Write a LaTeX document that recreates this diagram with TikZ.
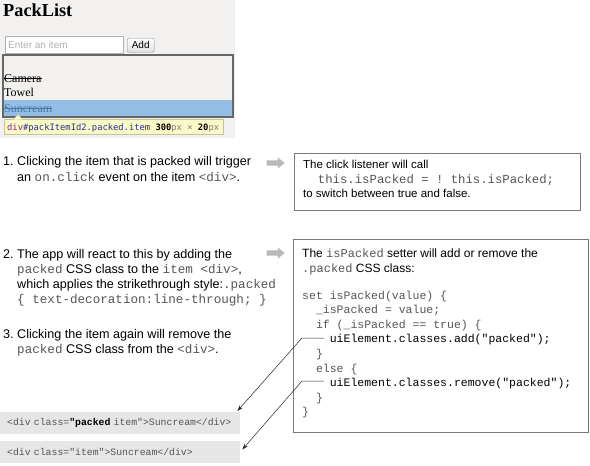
\documentclass[tikz,border=0pt]{standalone}
\usepackage{fontspec}
\setmainfont{Liberation Sans}
\setmonofont{Liberation Mono}
\newfontfamily\browserfont{Liberation Serif}
\newfontfamily\inspectfont{DejaVu Sans Mono}
\usepackage{xcolor}
\usetikzlibrary{arrows.meta,positioning,shapes.arrows}

\definecolor{pagebg}{HTML}{F2F1EF}
\definecolor{rowblue}{HTML}{92BDE5}
\definecolor{rowtext}{HTML}{4A78A6}
\definecolor{tipbg}{HTML}{FAFAC8}
\definecolor{tipline}{HTML}{C4C49A}
\definecolor{tagcol}{HTML}{8E1D8A}
\definecolor{selcol}{HTML}{2B2B9C}
\definecolor{framegray}{HTML}{7A7A7A}
\definecolor{codebg}{HTML}{E6E6E6}
\definecolor{codegray}{HTML}{555555}

\newcommand{\codeword}[1]{{\ttfamily\color{codegray}#1}}

\begin{document}
\begin{tikzpicture}[x=1pt, y=-1pt,
    note/.style={anchor=north west, inner sep=0, align=left, font=\fontsize{12.6}{16}\selectfont},
    boxtext/.style={anchor=north west, inner sep=0, align=left, font=\fontsize{11.5}{14.7}\selectfont},
    panel/.style={draw=framegray, line width=0.8pt, anchor=north west, inner sep=0},
    fatarrow/.style={single arrow, fill=gray!55, draw=none, inner sep=2.5pt, minimum height=18pt, single arrow head extend=3pt, single arrow tip angle=80},
    snippet/.style={anchor=north west, fill=codebg, minimum height=21.5pt, text width=226pt, inner xsep=7pt, inner ysep=0pt, align=left, font=\ttfamily\fontsize{9.8}{12}\selectfont, text=codegray},
    pointer/.style={-{Stealth[length=6pt, width=4pt]}, line width=0.5pt, draw=black!85},
    item/.style={anchor=base west, inner sep=0, font=\browserfont\fontsize{12}{14}\selectfont},
    strike/.style={line width=0.6pt}
]
\useasboundingbox (0,0) rectangle (590,466);

% browser screenshot
\fill[pagebg] (0,0) rectangle (235,138);
\node[anchor=base west, inner sep=0, font=\browserfont\bfseries\fontsize{18.3}{20}\selectfont] (apptitle) at (3,16.5) {PackList};
\node[anchor=north west, draw=gray!60, fill=white, minimum width=118pt, minimum height=17pt, inner sep=0] (itemfield) at (5,36) {};
\node[anchor=base west, inner sep=0, text=gray!60, font=\fontsize{10}{12}\selectfont] (itemhint) at (8,48.5) {Enter an item};
\node[anchor=north west, draw=gray!90, rounded corners=2pt, top color=white, bottom color=gray!25, minimum width=27pt, minimum height=14pt, inner sep=0, font=\fontsize{10}{12}\selectfont] (addbtn) at (127,38) {Add};

\fill[rowblue] (3,100) rectangle (233,117);
\draw[black!60, line width=1.2pt] (3,55) rectangle (233,117);
\node[item] (camera) at (4,82.3) {Camera};
\node[item] (towel) at (4,96.7) {Towel};
\node[item, text=rowtext] (suncream) at (4,112.3) {Suncream};
\draw[strike] ([yshift=3.6pt]camera.base west) -- ([yshift=3.6pt]camera.base east);
\draw[strike, rowtext] ([yshift=3.6pt]suncream.base west) -- ([yshift=3.6pt]suncream.base east);

\node[anchor=north west, draw=tipline, fill=tipbg, minimum width=219pt, minimum height=15pt, inner sep=0] (inspect) at (4,119) {};
\filldraw[draw=tipline, fill=tipbg] (13,119.6) -- (18,114.5) -- (23,119.6);
\node[anchor=base west, inner sep=0, font=\inspectfont\fontsize{8.8}{10}\selectfont] (inspecttext) at (7,130) {\textcolor{tagcol}{div}\textcolor{selcol}{\#packItemId2.packed.item} \textbf{300}\textcolor{gray}{px} \textcolor{gray}{×} \textbf{20}\textcolor{gray}{px}};

% steps on the left
\node[note] (step1) at (3,156.3) {1.~Clicking the item that is packed will trigger\\\phantom{1.~}an \codeword{on.click} event on the item \codeword{<div>}.};
\node[note, font=\fontsize{12.6}{15}\selectfont] (step2) at (3,248.8) {2.~The app will react to this by adding the\\\phantom{2.~}\codeword{packed} CSS class to the \codeword{item <div>},\\\phantom{2.~}which applies the strikethrough style:\codeword{.packed}\\\phantom{2.~}\codeword{\{ text-decoration:line-through; \}}};
\node[note, font=\fontsize{12.6}{15}\selectfont] (step3) at (3,328.8) {3.~Clicking the item again will remove the\\\phantom{3.~}\codeword{packed} CSS class from the \codeword{<div>}.};

\node[fatarrow] (go1) at (274,163) {};
\node[fatarrow] (go2) at (274,253) {};

% explanation boxes
\node[panel, minimum width=286pt, minimum height=57pt] (listener) at (294,153) {};
\node[boxtext] (listenertext) at (303,159.9) {The click listener will call\\{\fontsize{12.3}{14.7}\selectfont\codeword{~~this.isPacked = ! this.isPacked;}}\\to switch between true and false.};

\node[panel, minimum width=295pt, minimum height=193pt] (setter) at (293,239) {};
\node[boxtext, font=\fontsize{12}{15}\selectfont] (settertext) at (302,248.3) {The {\fontsize{12}{15}\selectfont\codeword{isPacked}} setter will add or remove the\\{\fontsize{12}{15}\selectfont\codeword{.packed}} CSS class:};
\node[anchor=north west, inner sep=0, align=left, font=\ttfamily\fontsize{11.5}{14.6}\selectfont, text=codegray] (settercode) at (302,290.6) {set isPacked(value) \{\\~~\_isPacked = value;\\~~if (\_isPacked == true) \{\\~~~~\textcolor{black}{uiElement.classes.add("packed");}\\~~\}\\~~else \{\\~~~~\textcolor{black}{uiElement.classes.remove("packed");}\\~~\}\\\}};

% resulting markup
\node[snippet] (divpacked) at (0,412) {<div class=\textcolor{black}{\textbf{"packed}} item">Suncream</div>};
\node[snippet] (divplain) at (0,441) {<div class="item">Suncream</div>};

\coordinate (addref) at (324,338);
\coordinate (removeref) at (324,381);
\draw[pointer] (addref) -- ++(-22,0) -- ([xshift=-3pt, yshift=1pt]divpacked.north east);
\draw[pointer] (removeref) -- ++(-22,0) -- ([xshift=2pt, yshift=2.5pt]divplain.east);
\end{tikzpicture}
\end{document}
